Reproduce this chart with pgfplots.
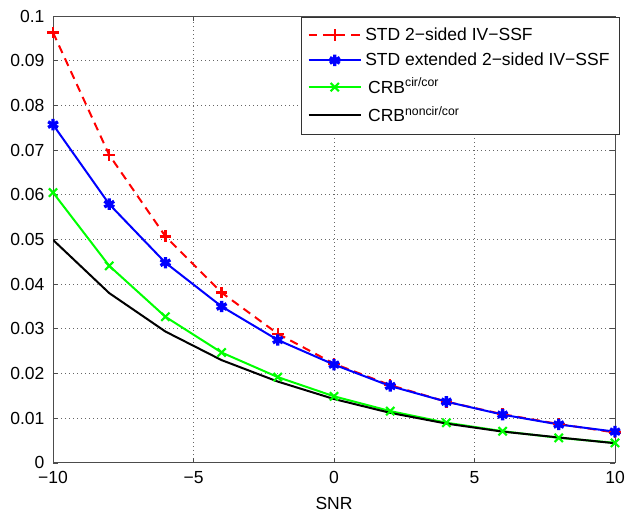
\documentclass[border=0pt]{standalone}
\usepackage{fontspec}
\setmainfont{Liberation Sans}
\usepackage{pgfplots}
\pgfplotsset{compat=1.18}
\begin{document}
\fontsize{10.5}{12.5}\selectfont
\begin{tikzpicture}
\begin{axis}[
  scale only axis,
  width=337pt, height=268pt,
  xmin=-10, xmax=10, ymin=0, ymax=0.1,
  xtick={-10,-5,0,5,10},
  xticklabels={−10,−5,0,5,10},
  ytick={0,0.01,0.02,0.03,0.04,0.05,0.06,0.07,0.08,0.09,0.1},
  yticklabels={0,0.01,0.02,0.03,0.04,0.05,0.06,0.07,0.08,0.09,0.1},
  /pgf/number format/assume math mode=true,
  tick align=inside,
  tick style={black!70, line width=0.5pt},
  major tick length=3pt,
  axis line style={black!70, line width=0.6pt},
  grid=major,
  grid style={black!60, dotted, line width=0.6pt},
  xlabel={SNR},
  xlabel style={yshift=-1pt},
  xticklabel style={yshift=-1.5pt},
  yticklabel style={xshift=-1.5pt},
  ticklabel style={font=\fontsize{10.5}{12.5}\selectfont},
  label style={font=\fontsize{10.5}{12.5}\selectfont},
  legend cell align=left,
  legend style={at={(rel axis cs:1.009,0.998)}, anchor=north east,
    draw=black!80, line width=0.6pt, font=\fontsize{10.5}{12.5}\selectfont,
    row sep=2pt, inner xsep=4pt, inner ysep=4pt},
  legend image code/.code={
    \draw[mark repeat=2, mark phase=2] plot coordinates {(0cm,0cm) (0.55cm,0cm) (1.1cm,0cm)};},
  every axis plot/.append style={line width=1.2pt},
]
\addplot[red, dash pattern=on 5pt off 3.5pt, mark=+, mark size=3.5pt, mark options={solid, line width=1.4pt}]
  coordinates {(-10,0.0963) (-8,0.0689) (-6,0.0507) (-4,0.0381) (-2,0.0289) (0,0.0222) (2,0.0174) (4,0.0137) (6,0.0109) (8,0.0087) (10,0.0068)};
\addlegendentry{STD 2−sided IV−SSF}
\addplot[blue, mark=asterisk, mark size=3.4pt, mark options={solid, line width=2pt}]
  coordinates {(-10,0.0757) (-8,0.0579) (-6,0.0448) (-4,0.0350) (-2,0.0275) (0,0.0220) (2,0.0172) (4,0.0137) (6,0.0108) (8,0.0086) (10,0.0070)};
\addlegendentry{STD extended 2−sided IV−SSF}
\addplot[color={rgb,1:red,0;green,1;blue,0}, mark=x, mark size=3.5pt, mark options={solid, line width=1.3pt}]
  coordinates {(-10,0.0605) (-8,0.0441) (-6,0.0327) (-4,0.0247) (-2,0.0192) (0,0.0149) (2,0.0116) (4,0.0090) (6,0.0071) (8,0.0056) (10,0.0045)};
\addlegendentry{\,CRB\textsuperscript{cir/cor}}
\addplot[black, no marks]
  coordinates {(-10,0.0499) (-8,0.0380) (-6,0.0294) (-4,0.0230) (-2,0.0182) (0,0.0143) (2,0.0112) (4,0.0088) (6,0.0070) (8,0.0057) (10,0.0044)};
\addlegendentry{\,CRB\textsuperscript{noncir/cor}}
\end{axis}
\pgfresetboundingbox
\useasboundingbox ([shift={(-31.8pt,-30.6pt)}]current axis.south west) rectangle ([shift={(7.2pt,9.6pt)}]current axis.north east);
\end{tikzpicture}
\end{document}
